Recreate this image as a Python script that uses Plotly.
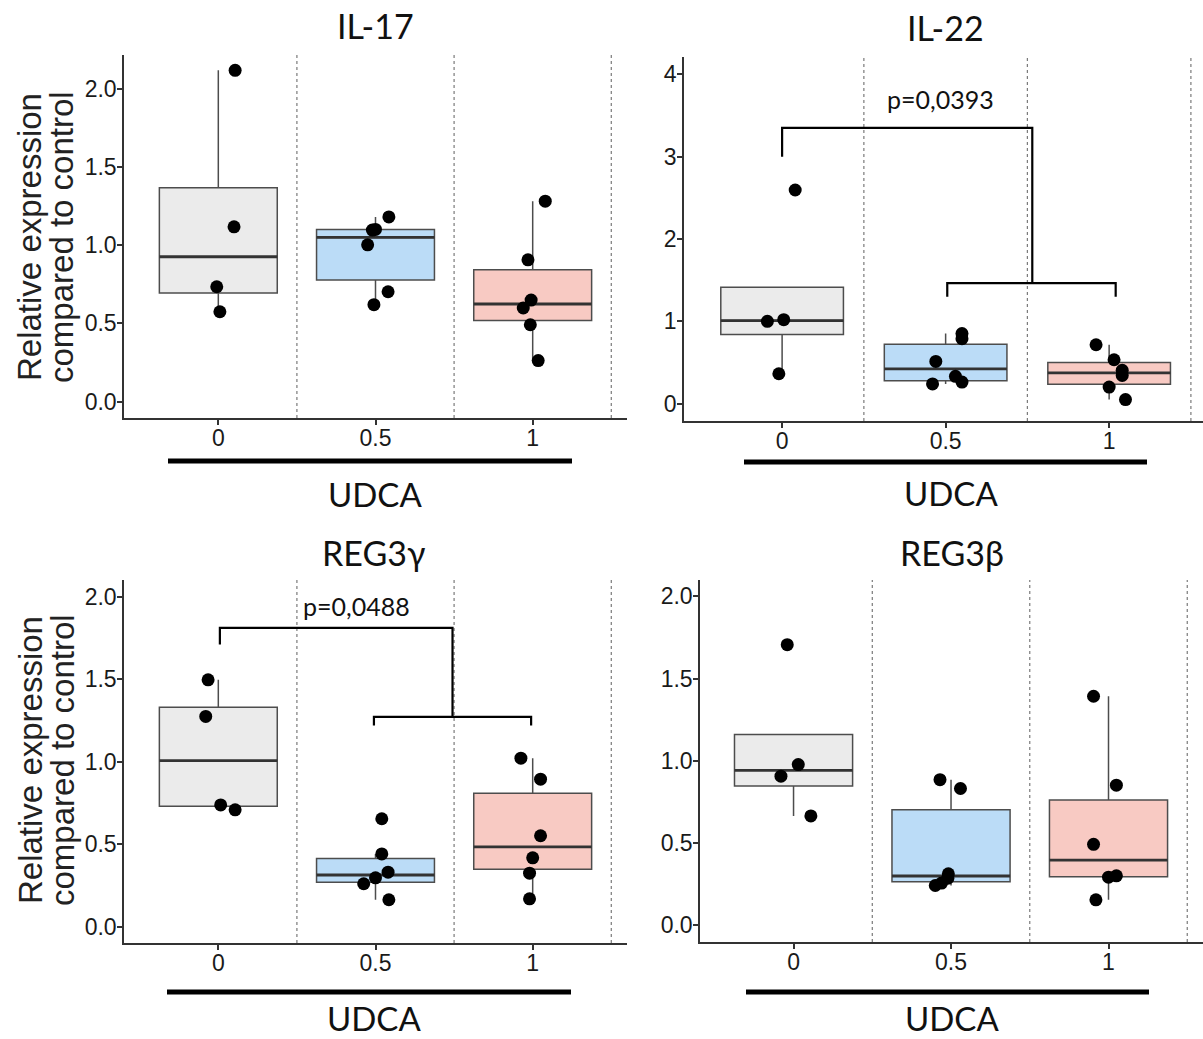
import numpy as np
import plotly.graph_objects as go

W, H = 1203, 1039

# UDCA dose groups (x categories) and box fill colours
doses = ["0", "0.5", "1"]
fills = ["#EBEBEB", "#BBDCF7", "#F8CAC3"]

# Relative expression per animal, one list per dose group
il17_vals = [[2.117, 1.117, 0.734, 0.574],
             [1.18, 1.096, 1.10, 1.002, 0.702, 0.619],
             [1.281, 0.906, 0.649, 0.598, 0.491, 0.262]]
il22_vals = [[1.0, 1.02, 0.364, 2.595],
             [0.852, 0.79, 0.514, 0.24, 0.332, 0.263],
             [0.716, 0.534, 0.405, 0.344, 0.202, 0.05]]
reg3g_vals = [[1.495, 1.273, 0.737, 0.707],
              [0.653, 0.44, 0.329, 0.295, 0.259, 0.162],
              [1.02, 0.893, 0.55, 0.416, 0.323, 0.168]]
reg3b_vals = [[1.706, 0.976, 0.905, 0.663],
              [0.884, 0.83, 0.31, 0.284, 0.254, 0.239],
              [1.392, 0.85, 0.49, 0.298, 0.29, 0.152]]

# Horizontal jitter of each point around its group centre
il17_jit = [[0.107, 0.10, -0.01, 0.01],
            [0.085, -0.02, 0.0, -0.05, 0.08, -0.01],
            [0.08, -0.03, -0.01, -0.06, -0.015, 0.035]]
il22_jit = [[-0.09, 0.01, -0.02, 0.08],
            [0.10, 0.10, -0.06, -0.08, 0.06, 0.10],
            [-0.08, 0.03, 0.08, 0.08, 0.0, 0.10]]
reg3g_jit = [[-0.065, -0.08, 0.015, 0.107],
             [0.04, 0.04, 0.08, 0.0, -0.075, 0.085],
             [-0.075, 0.05, 0.05, 0.0, -0.02, -0.02]]
reg3b_jit = [[-0.04, 0.03, -0.08, 0.11],
             [-0.07, 0.06, -0.017, -0.02, -0.06, -0.10],
             [-0.095, 0.05, -0.095, 0.05, 0.0, -0.08]]

# Significance labels
il22_p = "p=0,0393"
reg3g_p = "p=0,0488"

TITLE_FONT = "Lato, Carlito, Calibri, 'Open Sans', sans-serif"
AXIS_FONT = "'Liberation Sans', Arial, sans-serif"


def px(x):
    return x / W


def py(y):
    return 1 - y / H


panels = [
    dict(title="IL-17", vals=il17_vals, jit=il17_jit,
         xdom=(124, 627), ydom=(55, 418), xr=(-0.6, 2.6), yr=(-0.105, 2.215),
         yt=[0, 0.5, 1, 1.5, 2], fmt="{:.1f}",
         title_xy=(375, 25), udca_xy=(375, 494), bar=(168, 572, 461),
         ytitle_y=237, brackets=None, ptext=None),
    dict(title="IL-22", vals=il22_vals, jit=il22_jit,
         xdom=(684, 1203), ydom=(57, 421), xr=(-0.6, 2.574), yr=(-0.21, 4.21),
         yt=[0, 1, 2, 3, 4], fmt="{:.0f}",
         title_xy=(946, 27), udca_xy=(951, 493), bar=(744, 1147, 462),
         ytitle_y=None,
         brackets=["M 0,3.0 L 0,3.35 L 1.53,3.35 L 1.53,1.465",
                   "M 1.01,1.30 L 1.01,1.465 L 2.04,1.465 L 2.04,1.30"],
         ptext=(il22_p, 0.966, 3.70)),
    dict(title="REG3γ", vals=reg3g_vals, jit=reg3g_jit,
         xdom=(124, 627), ydom=(580, 943), xr=(-0.6, 2.6), yr=(-0.1, 2.1),
         yt=[0, 0.5, 1, 1.5, 2], fmt="{:.1f}",
         title_xy=(373, 552), udca_xy=(374, 1018), bar=(167, 571, 992),
         ytitle_y=760,
         brackets=["M 0.01,1.709 L 0.01,1.81 L 1.49,1.81 L 1.49,1.27",
                   "M 0.99,1.218 L 0.99,1.27 L 1.99,1.27 L 1.99,1.218"],
         ptext=(reg3g_p, 0.88, 1.94)),
    dict(title="REG3β", vals=reg3b_vals, jit=reg3b_jit,
         xdom=(700, 1203), ydom=(580, 942), xr=(-0.594, 2.6), yr=(-0.105, 2.1),
         yt=[0, 0.5, 1, 1.5, 2], fmt="{:.1f}",
         title_xy=(952, 552), udca_xy=(952, 1018), bar=(746, 1149, 992),
         ytitle_y=None, brackets=None, ptext=None),
]

fig = go.Figure()
shapes = []
annotations = []
layout_axes = {}

for k, p in enumerate(panels, start=1):
    xa = "x" if k == 1 else f"x{k}"
    ya = "y" if k == 1 else f"y{k}"
    xkey = "xaxis" if k == 1 else f"xaxis{k}"
    ykey = "yaxis" if k == 1 else f"yaxis{k}"

    axis_style = dict(showline=True, linecolor="#333333", linewidth=1.5,
                      ticks="outside", ticklen=5, tickwidth=1.5, tickcolor="#333333",
                      showgrid=False, zeroline=False, fixedrange=True,
                      tickfont=dict(family=AXIS_FONT, size=23, color="#1a1a1a"))
    layout_axes[xkey] = dict(domain=[px(p["xdom"][0]), px(p["xdom"][1])],
                             range=list(p["xr"]), tickvals=[0, 1, 2], ticktext=doses,
                             anchor=ya, ticklabelstandoff=-6, **axis_style)
    layout_axes[ykey] = dict(domain=[py(p["ydom"][1]), py(p["ydom"][0])],
                             range=list(p["yr"]), tickvals=p["yt"],
                             ticktext=[p["fmt"].format(v) for v in p["yt"]],
                             anchor=xa, ticklabelstandoff=-4, **axis_style)

    # dotted separators between dose groups
    for sep in (0.5, 1.5, 2.5):
        shapes.append(dict(type="line", xref=xa, x0=sep, x1=sep,
                           yref=f"{ya} domain", y0=0, y1=1,
                           line=dict(color="#7a7a7a", width=1.2, dash="dot"), layer="below"))

    for i, (vals, jit) in enumerate(zip(p["vals"], p["jit"])):
        v = np.array(vals, dtype=float)
        q1, med, q3 = np.percentile(v, [25, 50, 75])
        iqr = q3 - q1
        lo = max(min(v[v >= q1 - 1.5 * iqr].min(), q1), v.min())
        hi = max(v[v <= q3 + 1.5 * iqr].max(), q3)
        fig.add_trace(go.Box(x=[i], q1=[q1], median=[med], q3=[q3],
                             lowerfence=[lo], upperfence=[hi], width=0.75,
                             fillcolor=fills[i], line=dict(color="#4d4d4d", width=1.5),
                             whiskerwidth=0, boxpoints=False, showlegend=False,
                             hoverinfo="skip", xaxis=xa, yaxis=ya))
        fig.add_trace(go.Scatter(x=[i - 0.375, i + 0.375], y=[med, med], mode="lines",
                                 line=dict(color="#333333", width=2.8),
                                 showlegend=False, hoverinfo="skip", xaxis=xa, yaxis=ya))
        fig.add_trace(go.Scatter(x=[i + j for j in jit], y=vals, mode="markers",
                                 marker=dict(color="black", size=13),
                                 showlegend=False, xaxis=xa, yaxis=ya))

    if p["brackets"]:
        for path in p["brackets"]:
            shapes.append(dict(type="path", path=path, xref=xa, yref=ya,
                               line=dict(color="black", width=2.2)))
    if p["ptext"]:
        txt, tx, ty = p["ptext"]
        annotations.append(dict(text=txt, x=tx, y=ty, xref=xa, yref=ya, showarrow=False,
                                font=dict(family=TITLE_FONT, size=25, color="#111111")))

    # panel title
    annotations.append(dict(text=p["title"], x=px(p["title_xy"][0]), y=py(p["title_xy"][1]),
                            xref="paper", yref="paper", showarrow=False,
                            xanchor="center", yanchor="middle",
                            font=dict(family=TITLE_FONT, size=34, color="#111111")))
    # treatment bar and label below the axis
    bx0, bx1, by = p["bar"]
    shapes.append(dict(type="line", xref="paper", yref="paper",
                       x0=px(bx0), x1=px(bx1), y0=py(by), y1=py(by),
                       line=dict(color="black", width=5)))
    annotations.append(dict(text="UDCA", x=px(p["udca_xy"][0]), y=py(p["udca_xy"][1]),
                            xref="paper", yref="paper", showarrow=False,
                            xanchor="center", yanchor="middle",
                            font=dict(family=TITLE_FONT, size=33, color="#111111")))
    if p["ytitle_y"] is not None:
        for line_txt, lx in (("Relative expression", 30), ("compared to control", 62)):
            annotations.append(dict(text=line_txt, x=px(lx), y=py(p["ytitle_y"]),
                                    xref="paper", yref="paper", showarrow=False,
                                    textangle=-90, xanchor="center", yanchor="middle",
                                    font=dict(family=AXIS_FONT, size=33, color="#222222")))

fig.update_layout(width=W, height=H, autosize=False,
                  margin=dict(l=0, r=0, t=0, b=0),
                  paper_bgcolor="white", plot_bgcolor="white",
                  shapes=shapes, annotations=annotations, **layout_axes)

fig.write_html("out.html")
